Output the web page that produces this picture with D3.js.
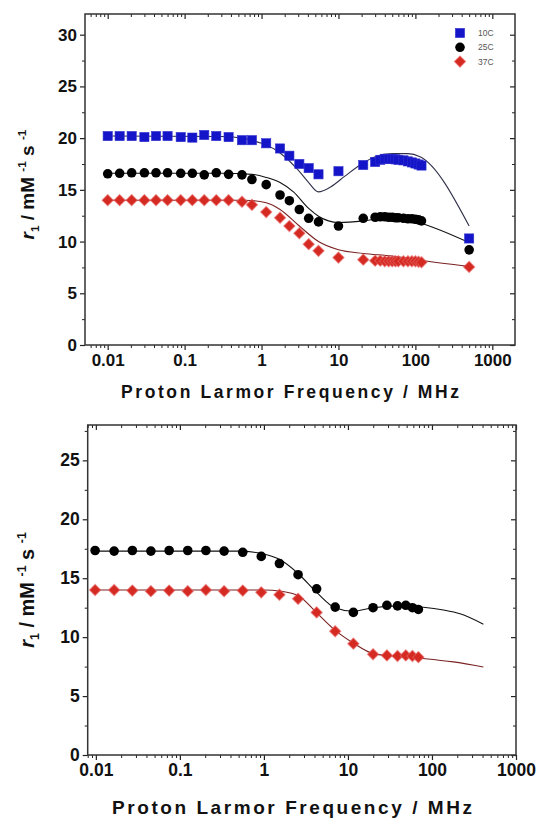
<!DOCTYPE html>
<html><head><meta charset="utf-8">
<script src="https://cdn.jsdelivr.net/npm/d3@7"></script>
<style>body{margin:0;background:#fff}svg{display:block}</style>
</head><body>
<svg id="c" width="541" height="823"></svg>
<script>
// ---- Data (top panel) ----
const freqTop = [0.01,0.0143,0.0205,0.030,0.0425,0.060,0.089,0.126,0.18,0.258,0.373,0.557,0.75,1.15,1.74,2.3,3.1,4.1,5.5,10,21,30,35,40,45,50,55,60,70,80,90,100,110,120,500];
const r10C = [20.2,20.2,20.2,20.1,20.2,20.2,20.1,20.05,20.3,20.2,20.1,19.8,19.8,19.5,19.0,18.3,17.5,17.1,16.5,16.8,17.4,17.7,17.9,18.0,18.0,18.0,17.95,17.9,17.85,17.75,17.65,17.55,17.45,17.35,10.3];
const r25C = [16.55,16.6,16.65,16.65,16.65,16.65,16.6,16.6,16.45,16.65,16.5,16.45,16.0,15.5,14.5,13.95,13.1,12.25,11.9,11.5,12.25,12.35,12.4,12.4,12.35,12.35,12.3,12.3,12.25,12.2,12.2,12.15,12.1,12.0,9.2];
const r37C = [14.0,14.0,14.0,14.0,14.0,14.0,14.0,14.0,14.0,14.0,14.0,13.85,13.55,12.85,12.3,11.5,10.8,9.75,9.1,8.45,8.25,8.15,8.15,8.1,8.1,8.1,8.1,8.1,8.1,8.1,8.1,8.1,8.05,8.0,7.55];
// fit curves top [freq, r1]
const fit10C = [[0.01,20.2],[0.3,20.15],[0.6,19.95],[1,19.5],[1.5,18.9],[2,18.2],[3,16.9],[4,15.8],[5.5,14.8],[8,15.3],[12,16.3],[20,17.5],[30,18.2],[50,18.5],[80,18.5],[115,18.2],[500,11.5]];
const fit25C = [[0.01,16.6],[0.3,16.6],[0.75,16.5],[1.15,16.2],[1.74,15.7],[2.6,14.8],[4.1,13.2],[5.5,12.45],[10,11.85],[21,12.0],[50,12.4],[115,11.8],[500,9.9]];
const fit37C = [[0.01,14.0],[0.6,14.0],[1.15,13.75],[1.74,13.1],[3.1,11.5],[5.5,10.0],[10,9.2],[21,8.85],[50,8.6],[115,8.2],[500,7.6]];

// ---- Data (bottom panel) ----
const freqBot = [0.0098,0.0165,0.0272,0.0452,0.0745,0.124,0.204,0.336,0.56,0.93,1.53,2.55,4.24,7.05,11.6,19.9,29.1,38.9,48.8,58.5,68.9];
const b25C = [17.35,17.3,17.35,17.3,17.35,17.35,17.35,17.3,17.2,16.85,16.25,15.3,14.1,12.55,12.1,12.5,12.7,12.65,12.7,12.5,12.35];
const b37C = [14.0,14.0,13.95,13.9,13.95,13.9,14.0,13.9,13.95,13.8,13.6,13.25,12.1,10.5,9.45,8.55,8.45,8.4,8.45,8.4,8.3];
const bfit25C = [[0.01,17.3],[0.5,17.3],[0.93,17.1],[1.53,16.6],[2.55,15.4],[4.24,13.8],[7,12.5],[11.6,12.2],[20,12.5],[40,12.65],[79,12.54],[137,12.3],[216,11.98],[409,11.1]];
const bfit37C = [[0.01,14.0],[1.0,14.0],[1.6,13.9],[2.6,13.5],[4.2,12.1],[7,10.6],[11.6,9.5],[20,8.6],[40,8.35],[83,8.17],[180,7.9],[409,7.47]];

const xTickVals = [0.01,0.1,1,10,100,1000];
const xTickLabels = ["0.01","0.1","1","10","100","1000"];
const legendLabels = ["10C","25C","37C"];

const svg = d3.select("#c");
const FONT = "'Liberation Sans', Arial, sans-serif";
const BLUE = "#1414c8", RED = "#d42a22";

function drawPanel(p){
  const x = d3.scaleLog().domain(p.xdom).range([p.l, p.r]);
  const y = d3.scaleLinear().domain(p.ydom).range([p.b, p.t]);
  const g = svg.append("g");
  const axColor = "#222";
  const minors = [];
  for (let e=-3;e<=3;e++) for (let k=2;k<=9;k++){ const v=k*Math.pow(10,e); if (v>=p.xdom[0] && v<=p.xdom[1]) minors.push(v); }
  const yMaj = d3.range(0, p.ydom[1]+0.01, 5);
  const yMin = d3.range(2.5, p.ydom[1]+0.01, 5);
  g.append("g").attr("transform",`translate(0,${p.b})`)
    .call(d3.axisBottom(x).tickValues(xTickVals).tickFormat((d,i)=>xTickLabels[i]).tickSize(5).tickPadding(4))
    .call(a=>{a.select(".domain").remove(); a.selectAll("text").attr("font-family",FONT).attr("font-weight","bold").attr("font-size",p.tickFs).attr("fill","#111");})
    .call(a=>a.selectAll("line").attr("stroke",axColor).attr("stroke-width",1.2));
  g.append("g").attr("transform",`translate(0,${p.b})`)
    .call(d3.axisBottom(x).tickValues(minors).tickFormat("").tickSize(3))
    .call(a=>{a.select(".domain").remove(); a.selectAll("line").attr("stroke",axColor);});
  g.append("g").attr("transform",`translate(0,${p.t})`)
    .call(d3.axisBottom(x).tickValues(xTickVals).tickFormat("").tickSize(5))
    .call(a=>{a.select(".domain").remove(); a.selectAll("line").attr("stroke",axColor).attr("stroke-width",1.2);});
  g.append("g").attr("transform",`translate(0,${p.t})`)
    .call(d3.axisBottom(x).tickValues(minors).tickFormat("").tickSize(3))
    .call(a=>{a.select(".domain").remove(); a.selectAll("line").attr("stroke",axColor);});
  g.append("g").attr("transform",`translate(${p.l},0)`)
    .call(d3.axisLeft(y).tickValues(yMaj).tickFormat(d3.format("d")).tickSize(5).tickPadding(3))
    .call(a=>{a.select(".domain").remove(); a.selectAll("text").attr("font-family",FONT).attr("font-weight","bold").attr("font-size",p.tickFs).attr("fill","#111");})
    .call(a=>a.selectAll("line").attr("stroke",axColor).attr("stroke-width",1.2));
  g.append("g").attr("transform",`translate(${p.l},0)`)
    .call(d3.axisLeft(y).tickValues(yMin).tickFormat("").tickSize(3))
    .call(a=>{a.select(".domain").remove(); a.selectAll("line").attr("stroke",axColor);});
  g.append("g").attr("transform",`translate(${p.r},0)`)
    .call(d3.axisLeft(y).tickValues(yMaj).tickFormat("").tickSize(5))
    .call(a=>{a.select(".domain").remove(); a.selectAll("line").attr("stroke",axColor).attr("stroke-width",1.2);});
  g.append("g").attr("transform",`translate(${p.r},0)`)
    .call(d3.axisLeft(y).tickValues(yMin).tickFormat("").tickSize(3))
    .call(a=>{a.select(".domain").remove(); a.selectAll("line").attr("stroke",axColor);});
  g.append("rect").attr("x",p.l).attr("y",p.t).attr("width",p.r-p.l).attr("height",p.b-p.t)
    .attr("fill","none").attr("stroke","#333").attr("stroke-width",1.5);

  const line = d3.line().x(d=>x(d[0])).y(d=>y(d[1])).curve(d3.curveMonotoneX);
  p.fits.forEach(f=>{
    g.append("path").datum(f.data).attr("d",line).attr("fill","none").attr("stroke",f.color).attr("stroke-width",1.1);
  });
  p.series.forEach(s=>{
    const pts = s.freq.map((f,i)=>[f,s.vals[i]]);
    drawMarkers(g, pts, s.shape, x, y);
  });
  g.append("text").attr("x",p.titleX).attr("y",p.titleY).attr("text-anchor","middle")
    .attr("font-family",FONT).attr("font-weight","bold").attr("font-size",p.titleFs)
    .attr("textLength",p.titleLen).attr("lengthAdjust","spacing").attr("fill","#111")
    .text("Proton Larmor Frequency / MHz");
  const yt = g.append("text").attr("transform",`translate(${p.ylabX},${(p.t+p.b)/2+p.ylabDy}) rotate(-90)`)
    .attr("text-anchor","middle").attr("font-family",FONT).attr("font-weight","bold").attr("font-size",p.ylabFs).attr("fill","#111");
  yt.append("tspan").attr("font-style","italic").text("r");
  yt.append("tspan").attr("font-size",p.ylabFs*0.62).attr("dy",5).text("1");
  yt.append("tspan").attr("dy",-5).text(" / mM ");
  yt.append("tspan").attr("font-size",p.ylabFs*0.62).attr("dy",-8).text("-1");
  yt.append("tspan").attr("dy",8).text(" s ");
  yt.append("tspan").attr("font-size",p.ylabFs*0.62).attr("dy",-8).text("-1");
  return {x,y,g};
}

function drawMarkers(g, pts, shape, x, y){
  if (shape==="square"){
    g.selectAll(null).data(pts).enter().append("rect")
      .attr("x",d=>x(d[0])-4.6).attr("y",d=>y(d[1])-4.6).attr("width",9.2).attr("height",9.2)
      .attr("fill",BLUE).attr("stroke","#3030d0").attr("stroke-width",0.6);
  } else if (shape==="circle"){
    g.selectAll(null).data(pts).enter().append("circle")
      .attr("cx",d=>x(d[0])).attr("cy",d=>y(d[1])).attr("r",4.8).attr("fill","#000");
  } else {
    g.selectAll(null).data(pts).enter().append("path")
      .attr("d",d3.symbol().type(d3.symbolSquare).size(62))
      .attr("transform",d=>`translate(${x(d[0])},${y(d[1])}) rotate(45)`)
      .attr("fill",RED).attr("stroke","#e86060").attr("stroke-opacity",0.6).attr("stroke-width",1.2);
  }
}

const topPanel = drawPanel({
  l:85, r:515, t:14, b:345, xdom:[Math.pow(10,-2.295),Math.pow(10,3.295)], ydom:[0,32],
  tickFs:17, titleX:290, titleY:398, titleFs:17.5, titleLen:338, ylabX:34, ylabDy:5, ylabFs:19,
  fits:[{data:fit10C,color:"#30304a"},{data:fit25C,color:"#111"},{data:fit37C,color:"#7a2222"}],
  series:[{freq:freqTop,vals:r10C,shape:"square"},{freq:freqTop,vals:r25C,shape:"circle"},{freq:freqTop,vals:r37C,shape:"diamond"}]
});
const lg = topPanel.g.append("g");
const legShapes = ["square","circle","diamond"];
legendLabels.forEach((lab,i)=>{
  const yy = 33 + i*14.3;
  drawMarkers(lg, [[0,0]], legShapes[i], ()=>460, ()=>yy);
  lg.append("text").attr("x",478).attr("y",yy+3).attr("font-family",FONT).attr("font-size",8.5).attr("fill","#555").text(lab);
});

drawPanel({
  l:87.7, r:516, t:425, b:755, xdom:[Math.pow(10,-2.097),1000], ydom:[0,28],
  tickFs:17.5, titleX:292, titleY:814, titleFs:19, titleLen:360, ylabX:34, ylabDy:0, ylabFs:20,
  fits:[{data:bfit25C,color:"#111"},{data:bfit37C,color:"#7a2222"}],
  series:[{freq:freqBot,vals:b25C,shape:"circle"},{freq:freqBot,vals:b37C,shape:"diamond"}]
});
</script>
</body></html>
